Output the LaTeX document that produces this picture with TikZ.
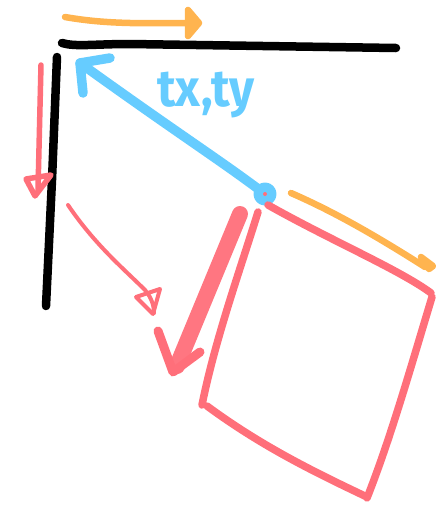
\documentclass[tikz,border=0pt]{standalone}
\usepackage{fontspec}
\newfontfamily\handfont{Fira Sans}
\definecolor{skred}{HTML}{FF6F7A}
\definecolor{skorange}{HTML}{FFB44F}
\definecolor{skblue}{HTML}{66CCFF}
\tikzset{
  ink/.style={line cap=round, line join=round},
  blackline/.style={ink, draw=black, line width=8.5pt},
  redline/.style={ink, draw=skred, line width=7.5pt},
  thinred/.style={ink, draw=skred, line width=4pt},
  orangeline/.style={ink, draw=skorange, line width=6.5pt},
  blueline/.style={ink, draw=skblue, line width=9.5pt},
}
\begin{document}
\begin{tikzpicture}[x=1pt,y=-1pt]
\useasboundingbox (0,0) rectangle (436,507);
% coordinates
\coordinate (hA) at (62,43);
\coordinate (hB) at (396,48);
\coordinate (vA) at (57,57);
\coordinate (vB) at (46,306);
\coordinate (pivot) at (265,194);
\coordinate (origin) at (80,63);
% black axes
\draw[blackline] (hA) .. controls (75,47) and (95,44) .. (130,44) -- (hB);
\draw[blackline] (vA) -- (52,180) -- (vB);
% orange top arrow
\draw[orangeline] (65,17) .. controls (110,25) and (150,23) .. (196,23);
\draw[orangeline, fill=skorange] (188,10) -- (199,23) -- (188,36) -- cycle;
% red left arrow
\draw[thinred, line width=5.5pt] (41,65) -- (38,190);
\draw[thinred, line width=5.5pt] (26,179) -- (51,175) -- (35,196) -- cycle;
% blue arrow
\draw[blueline] (pivot) .. controls (220,160) and (180,135) .. (origin);
\draw[blueline] (83,93) -- (origin) -- (110,58);
\draw[ink, draw=skblue, line width=9pt] (pivot) circle (7);
\fill[skred] (pivot) circle (2);
% label
\node[text=skblue, font=\handfont\bfseries\fontsize{52}{52}\selectfont, inner sep=0pt, anchor=base, xscale=0.93] (lbl) at (206,106) {tx,ty};
% thin curved red arrow
\draw[thinred] (68,205) .. controls (95,245) and (125,270) .. (145,290) .. controls (151,297) and (154,305) .. (154,313);
\draw[thinred] (136,297) -- (160,289) -- (153,314) -- cycle;
% thick red arrow
\draw[ink, draw=skred, line width=16pt, opacity=0.95] (240,214) -- (177,366);
\draw[ink, draw=skred, line width=9pt] (158,331) -- (173,372) -- (200,352);
% orange right arrow
\draw[orangeline] (291,193) .. controls (330,210) and (370,232) .. (425,267);
\draw[orangeline, fill=skorange] (421,257) -- (429,269) -- (433,266) -- cycle;
% red square
\draw[redline] (258,212) .. controls (240,270) and (215,340) .. (202,405);
\draw[redline] (207,406) .. controls (260,445) and (310,470) .. (367,497);
\draw[redline] (432,297) .. controls (410,370) and (390,440) .. (367,498);
\draw[redline] (268,205) .. controls (330,240) and (400,270) .. (431,293);
\end{tikzpicture}
\end{document}
